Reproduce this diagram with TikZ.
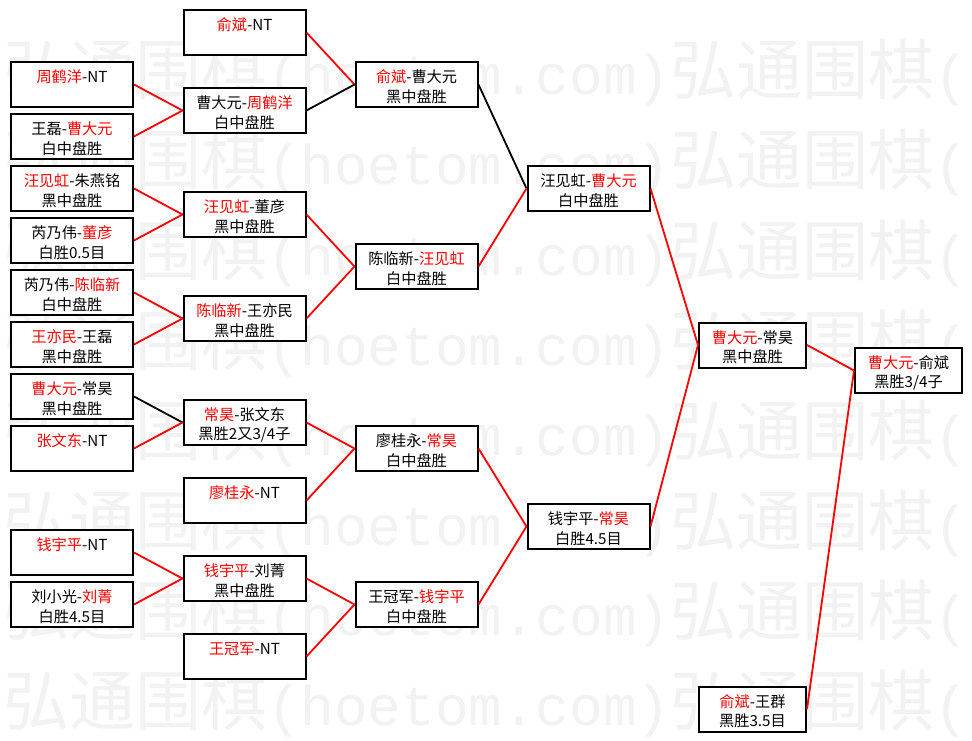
\documentclass[tikz,border=0pt]{standalone}
\usepackage{fontspec}
\newfontfamily\cjk{Noto Sans CJK SC}
\newfontfamily\wmlat{Liberation Mono}
\newcommand{\wn}[1]{\textcolor{red}{#1}}
\newcommand{\hoetom}{弘通围棋{\wmlat\fontsize{56}{60}\selectfont(hoetom.com)}弘通围棋{\wmlat\fontsize{56}{60}\selectfont(h}}
\newcommand{\gm}[2]{\rule{0pt}{17.5pt}#1\\#2\vphantom{中}}

\begin{document}
\begin{tikzpicture}[x=1pt, y=-1pt,
    game/.style={draw=black, fill=white, line width=2pt, minimum width=122pt,
                 minimum height=45pt, inner sep=0pt, align=center,
                 font=\cjk\fontsize{15.2}{19.5}\selectfont},
    narrow/.style={game, minimum width=107pt},
    win/.style={draw=red, line width=1.8pt},
    lose/.style={draw=black, line width=1.8pt},
    wmrow/.style={anchor=base west, inner sep=0pt, text=black!5,
                  font=\cjk\fontsize{66}{70}\selectfont}]
      \useasboundingbox (0,0) rectangle (972,741);
      \fill[white] (0,0) rectangle (972,741);
      \begin{scope}
        \clip (0,0) rectangle (972,741);
        \node[wmrow] (wm1) at (3,95)  {\hoetom};
        \node[wmrow] (wm2) at (3,185) {\hoetom};
        \node[wmrow] (wm3) at (3,275) {\hoetom};
        \node[wmrow] (wm4) at (3,365) {\hoetom};
        \node[wmrow] (wm5) at (3,455) {\hoetom};
        \node[wmrow] (wm6) at (3,545) {\hoetom};
        \node[wmrow] (wm7) at (3,635) {\hoetom};
        \node[wmrow] (wm8) at (3,725) {\hoetom};
      \end{scope}

      \node[game] (r1a) at (72,84.5)  {\gm{\wn{周鹤洋}-NT}{}};
      \node[game] (r1b) at (72,136.5) {\gm{王磊-\wn{曹大元}}{白中盘胜}};
      \node[game] (r1c) at (72,188.5) {\gm{\wn{汪见虹}-朱燕铭}{黑中盘胜}};
      \node[game] (r1d) at (72,240.5) {\gm{芮乃伟-\wn{董彦}}{白胜0.5目}};
      \node[game] (r1e) at (72,292.5) {\gm{芮乃伟-\wn{陈临新}}{白中盘胜}};
      \node[game] (r1f) at (72,344.5) {\gm{\wn{王亦民}-王磊}{黑中盘胜}};
      \node[game] (r1g) at (72,396.5) {\gm{\wn{曹大元}-常昊}{黑中盘胜}};
      \node[game] (r1h) at (72,448.5) {\gm{\wn{张文东}-NT}{}};
      \node[game] (r1i) at (72,552.5) {\gm{\wn{钱宇平}-NT}{}};
      \node[game] (r1j) at (72,604.5) {\gm{刘小光-\wn{刘菁}}{白胜4.5目}};

      \node[game] (r2a) at (244.5,32.5)  {\gm{\wn{俞斌}-NT}{}};
      \node[game] (r2b) at (244.5,110.5) {\gm{曹大元-\wn{周鹤洋}}{白中盘胜}};
      \node[game] (r2c) at (244.5,214.5) {\gm{\wn{汪见虹}-董彦}{黑中盘胜}};
      \node[game] (r2d) at (244.5,318.5) {\gm{\wn{陈临新}-王亦民}{黑中盘胜}};
      \node[game] (r2e) at (244.5,422.5) {\gm{\wn{常昊}-张文东}{黑胜2又3/4子}};
      \node[game] (r2f) at (244.5,500.5) {\gm{\wn{廖桂永}-NT}{}};
      \node[game] (r2g) at (244.5,578.5) {\gm{\wn{钱宇平}-刘菁}{黑中盘胜}};
      \node[game] (r2h) at (244.5,656.5) {\gm{\wn{王冠军}-NT}{}};

      \node[game] (r3a) at (416.5,84.5)  {\gm{\wn{俞斌}-曹大元}{黑中盘胜}};
      \node[game] (r3b) at (416.5,266.5) {\gm{陈临新-\wn{汪见虹}}{白中盘胜}};
      \node[game] (r3c) at (416.5,448.5) {\gm{廖桂永-\wn{常昊}}{白中盘胜}};
      \node[game] (r3d) at (416.5,604.5) {\gm{王冠军-\wn{钱宇平}}{白中盘胜}};

      \node[game] (r4a) at (588.5,188.5) {\gm{汪见虹-\wn{曹大元}}{白中盘胜}};
      \node[game] (r4b) at (588.5,526.5) {\gm{钱宇平-\wn{常昊}}{白胜4.5目}};

      \node[narrow] (r5a) at (752.5,345)   {\gm{\wn{曹大元}-常昊}{黑中盘胜}};
      \node[narrow] (r5b) at (752.5,709)   {\gm{\wn{俞斌}-王群}{黑胜3.5目}};
      \node[narrow] (fin) at (908.5,370.5) {\gm{\wn{曹大元}-俞斌}{黑胜3/4子}};

      \draw[win]  (r1a.east) -- (r2b.west);
      \draw[win]  (r1b.east) -- (r2b.west);
      \draw[win]  (r1c.east) -- (r2c.west);
      \draw[win]  (r1d.east) -- (r2c.west);
      \draw[win]  (r1e.east) -- (r2d.west);
      \draw[win]  (r1f.east) -- (r2d.west);
      \draw[lose] (r1g.east) -- (r2e.west);
      \draw[win]  (r1h.east) -- (r2e.west);
      \draw[win]  (r1i.east) -- (r2g.west);
      \draw[win]  (r1j.east) -- (r2g.west);

      \draw[win]  (r2a.east) -- (r3a.west);
      \draw[lose] (r2b.east) -- (r3a.west);
      \draw[win]  (r2c.east) -- (r3b.west);
      \draw[win]  (r2d.east) -- (r3b.west);
      \draw[win]  (r2e.east) -- (r3c.west);
      \draw[win]  (r2f.east) -- (r3c.west);
      \draw[win]  (r2g.east) -- (r3d.west);
      \draw[win]  (r2h.east) -- (r3d.west);

      \draw[lose] (r3a.east) -- (r4a.west);
      \draw[win]  (r3b.east) -- (r4a.west);
      \draw[win]  (r3c.east) -- (r4b.west);
      \draw[win]  (r3d.east) -- (r4b.west);

      \draw[win]  (r4a.east) -- (r5a.west);
      \draw[win]  (r4b.east) -- (r5a.west);
      \draw[win]  (r5a.east) -- (fin.west);
      \draw[win]  (r5b.east) -- (fin.west);
    \end{tikzpicture}
\end{document}
